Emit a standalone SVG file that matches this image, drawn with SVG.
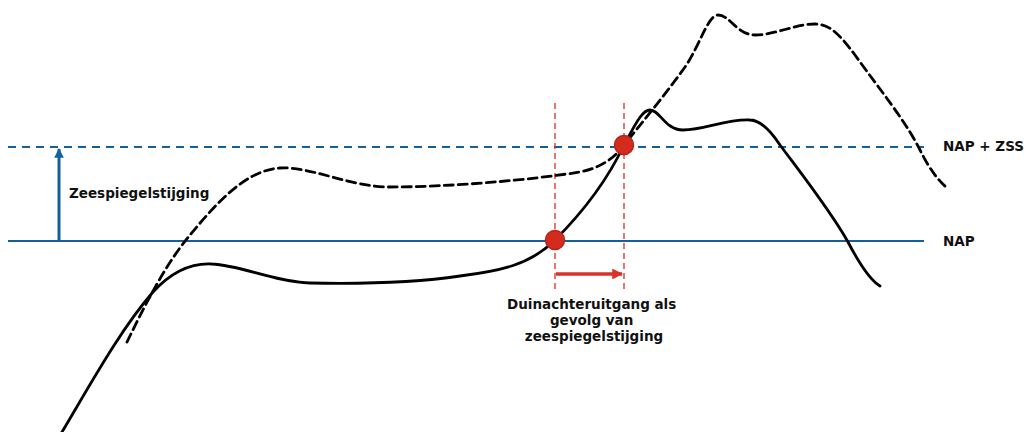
<svg xmlns="http://www.w3.org/2000/svg" width="1027" height="432" viewBox="0 0 1027 432">
  <style>
    .lbl { font-family: "DejaVu Sans", Verdana, sans-serif; font-weight: bold; font-size: 13.5px; fill: #111; }
    .blue { stroke: #14609b; stroke-width: 2.2; fill: none; }
    .profile { stroke: #000; stroke-width: 2.8; fill: none; stroke-linecap: round; stroke-linejoin: round; }
    .reddash { stroke: #dd2c24; stroke-width: 1.3; stroke-dasharray: 6 4; fill: none; }
    .dot { fill: #d42b1f; stroke: #b8231a; stroke-width: 1.5; }
  </style>
  <defs>
    <marker id="arrBlue" viewBox="0 0 10 10" refX="9" refY="5" markerWidth="3.2" markerHeight="3.2" orient="auto" markerUnits="strokeWidth">
      <path d="M0,0 L10,5 L0,10 Z" fill="#14609b"/>
    </marker>
    <marker id="arrRed" viewBox="0 0 10 10" refX="9" refY="5" markerWidth="3" markerHeight="3" orient="auto" markerUnits="strokeWidth">
      <path d="M0,0 L10,5 L0,10 Z" fill="#d83327"/>
    </marker>
  </defs>

  <g id="levels">
    <line id="nap" class="blue" x1="8" y1="241" x2="924" y2="241"/>
    <line id="nap-zss" class="blue" x1="8" y1="147" x2="924" y2="147" stroke-dasharray="8 6"/>
  </g>

  <g id="connectors">
    <line class="reddash" x1="555" y1="103" x2="555" y2="292"/>
    <line class="reddash" x1="624" y1="103" x2="624" y2="292"/>
    <line x1="59" y1="241" x2="59" y2="149" stroke="#14609b" stroke-width="3" marker-end="url(#arrBlue)"/>
    <line x1="556" y1="274" x2="622" y2="274" stroke="#d83327" stroke-width="3.6" marker-end="url(#arrRed)"/>
  </g>

  <g id="profile-current">
    <path class="profile" d="M 62,432 C 90,385 120,330 153,292 C 175,268 195,263 212,264 C 240,265 275,282 310,283 C 360,284 420,282 460,276 C 500,271 530,265 555,240 C 580,215 605,185 624,145 C 635,125 642,110 650,110 C 660,110 665,130 683,130 C 705,130 725,119 750,120 C 760,120 770,130 780,145 C 800,172 830,210 848,242 C 860,265 870,280 880,286"/>
  </g>

  <g id="profile-future">
    <path class="profile" stroke-dasharray="9 5" stroke-linecap="butt" d="M 127,342 C 145,305 165,265 190,235 C 215,205 245,170 280,168 C 310,166 350,187 390,187 C 450,187 530,180 580,172 C 600,168 615,158 624,145 C 640,125 665,95 685,67 C 700,45 708,15 718,15 C 730,15 737,35 755,35 C 775,35 795,24 815,24 C 830,24 840,35 855,55 C 880,90 905,120 920,150 C 930,170 938,180 947,188"/>
  </g>

  <g id="points">
    <circle class="dot" cx="555" cy="240" r="9.5"/>
    <circle class="dot" cx="624" cy="145" r="9.5"/>
  </g>

  <g id="labels">
    <text class="lbl" x="69" y="198">Zeespiegelstijging</text>
    <text class="lbl" x="943" y="151">NAP + ZSS</text>
    <text class="lbl" x="943" y="246">NAP</text>
    <text class="lbl" text-anchor="middle">
      <tspan x="594" y="309">Duinachteruitgang als</tspan>
      <tspan x="594" y="325">gevolg van</tspan>
      <tspan x="594" y="341">zeespiegelstijging</tspan>
    </text>
  </g>
</svg>
